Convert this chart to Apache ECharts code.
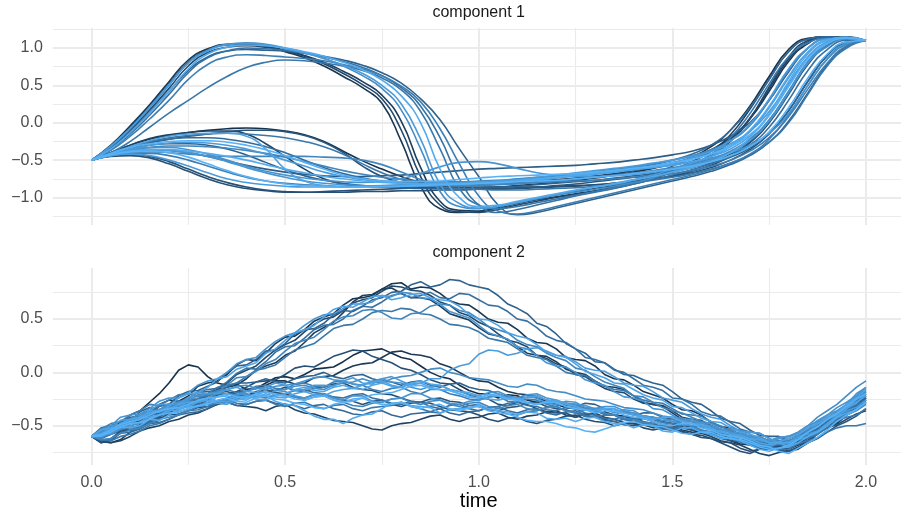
<!DOCTYPE html>
<html><head><meta charset="utf-8">
<script src="https://cdn.jsdelivr.net/npm/echarts@6/dist/echarts.min.js"></script>
<style>html,body{margin:0;padding:0;background:#fff}#chart{width:901px;height:519px}</style>
</head><body><div id="chart"></div>
<script>
// ---------- data ----------
const time1 = [0,0.05,0.1,0.15,0.2,0.25,0.3,0.35,0.4,0.45,0.5,0.55,0.6,0.65,0.7,0.75,0.8,0.85,0.9,0.95,1,1.05,1.1,1.15,1.2,1.25,1.3,1.35,1.4,1.45,1.5,1.55,1.6,1.65,1.7,1.75,1.8,1.85,1.9,1.95,2];
const time2 = [0,0.025,0.05,0.075,0.1,0.125,0.15,0.175,0.2,0.225,0.25,0.275,0.3,0.325,0.35,0.375,0.4,0.425,0.45,0.475,0.5,0.525,0.55,0.575,0.6,0.625,0.65,0.675,0.7,0.725,0.75,0.775,0.8,0.825,0.85,0.875,0.9,0.925,0.95,0.975,1,1.025,1.05,1.075,1.1,1.125,1.15,1.175,1.2,1.225,1.25,1.275,1.3,1.325,1.35,1.375,1.4,1.425,1.45,1.475,1.5,1.525,1.55,1.575,1.6,1.625,1.65,1.675,1.7,1.725,1.75,1.775,1.8,1.825,1.85,1.875,1.9,1.925,1.95,1.975,2];
const panelTitles = ['component 1', 'component 2'];
const xTicks = [0, 0.5, 1, 1.5, 2];
const xMinor = [0.25, 0.75, 1.25, 1.75];
const yTicks1 = [-1, -0.5, 0, 0.5, 1];
const yMinor1 = [-1.25, -0.75, -0.25, 0.25, 0.75, 1.25];
const yTicks2 = [-0.5, 0, 0.5];
const yMinor2 = [-0.75, -0.25, 0.25, 0.75];
const xTitle = 'time';

// component 1 curves (values at time1)
const c1_01 = [-0.50,-0.30,-0.04,0.24,0.55,0.84,0.99,1.05,1.06,1.03,0.95,0.87,0.76,0.62,0.47,0.26,-0.25,-0.85,-1.15,-1.20,-1.19,-1.14,-1.08,-1.03,-0.99,-0.95,-0.91,-0.86,-0.80,-0.70,-0.58,-0.47,-0.36,-0.20,0.05,0.42,0.82,1.06,1.14,1.13,1.10];
const c1_02 = [-0.50,-0.32,-0.08,0.20,0.50,0.80,0.97,1.05,1.07,1.05,1.00,0.94,0.86,0.76,0.63,0.46,0.17,-0.35,-0.92,-1.12,-1.15,-1.12,-1.07,-1.02,-0.97,-0.93,-0.89,-0.85,-0.80,-0.74,-0.65,-0.58,-0.50,-0.40,-0.22,0.03,0.42,0.80,1.02,1.12,1.10];
const c1_03 = [-0.50,-0.33,-0.10,0.17,0.46,0.76,0.94,1.01,1.03,1.01,0.96,0.89,0.79,0.66,0.51,0.32,-0.10,-0.72,-1.10,-1.19,-1.20,-1.16,-1.10,-1.05,-1.00,-0.96,-0.92,-0.87,-0.82,-0.75,-0.66,-0.56,-0.44,-0.25,0.05,0.48,0.88,1.10,1.15,1.13,1.10];
const c1_04 = [-0.50,-0.35,-0.13,0.13,0.42,0.72,0.92,1.01,1.04,1.03,1.00,0.95,0.89,0.81,0.71,0.57,0.36,0.00,-0.62,-1.00,-1.12,-1.10,-1.05,-1.00,-0.95,-0.90,-0.86,-0.82,-0.77,-0.72,-0.66,-0.60,-0.52,-0.40,-0.20,0.12,0.55,0.92,1.10,1.14,1.10];
const c1_05 = [-0.50,-0.36,-0.15,0.10,0.38,0.67,0.87,0.96,1.00,0.99,0.97,0.93,0.88,0.82,0.74,0.63,0.47,0.22,-0.20,-0.75,-1.10,-1.20,-1.16,-1.10,-1.04,-0.98,-0.93,-0.88,-0.82,-0.76,-0.70,-0.63,-0.55,-0.45,-0.30,-0.06,0.30,0.70,0.98,1.10,1.10];
const c1_06 = [-0.50,-0.37,-0.18,0.05,0.30,0.58,0.78,0.88,0.91,0.90,0.88,0.86,0.83,0.78,0.72,0.63,0.49,0.28,-0.08,-0.55,-0.98,-1.18,-1.22,-1.18,-1.12,-1.06,-1.00,-0.94,-0.88,-0.82,-0.76,-0.70,-0.63,-0.54,-0.42,-0.22,0.10,0.50,0.85,1.05,1.10];
const c1_07 = [-0.50,-0.40,-0.25,-0.06,0.13,0.30,0.47,0.62,0.74,0.81,0.84,0.83,0.80,0.76,0.70,0.60,0.44,0.15,-0.35,-0.88,-1.10,-1.15,-1.12,-1.07,-1.02,-0.97,-0.92,-0.87,-0.81,-0.74,-0.66,-0.56,-0.42,-0.20,0.12,0.52,0.88,1.07,1.13,1.12,1.10];
const c1_08 = [-0.50,-0.31,-0.06,0.22,0.52,0.81,0.97,1.04,1.05,1.03,0.97,0.90,0.81,0.69,0.55,0.37,0.02,-0.60,-1.05,-1.17,-1.18,-1.13,-1.07,-1.01,-0.96,-0.92,-0.88,-0.84,-0.79,-0.72,-0.63,-0.52,-0.38,-0.16,0.18,0.58,0.95,1.12,1.15,1.13,1.10];
const c1_09 = [-0.50,-0.31,-0.07,0.21,0.51,0.80,0.96,1.04,1.06,1.04,0.99,0.93,0.86,0.77,0.66,0.50,0.25,-0.22,-0.82,-1.08,-1.14,-1.12,-1.07,-1.01,-0.96,-0.91,-0.86,-0.81,-0.76,-0.70,-0.62,-0.54,-0.45,-0.32,-0.12,0.20,0.60,0.94,1.10,1.13,1.10];
const c1_10 = [-0.50,-0.34,-0.12,0.14,0.42,0.70,0.88,0.96,0.98,0.97,0.96,0.93,0.89,0.84,0.77,0.67,0.53,0.32,0.04,-0.35,-0.72,-1.10,-1.23,-1.20,-1.14,-1.08,-1.02,-0.96,-0.90,-0.84,-0.78,-0.72,-0.65,-0.56,-0.44,-0.26,0.02,0.40,0.78,1.02,1.10];
const c1_11 = [-0.50,-0.40,-0.30,-0.22,-0.17,-0.13,-0.10,-0.08,-0.07,-0.08,-0.11,-0.16,-0.25,-0.38,-0.51,-0.62,-0.72,-0.80,-0.85,-0.87,-0.87,-0.86,-0.84,-0.82,-0.80,-0.77,-0.74,-0.70,-0.66,-0.61,-0.55,-0.46,-0.32,-0.10,0.22,0.62,0.98,1.13,1.15,1.13,1.10];
const c1_12 = [-0.50,-0.40,-0.30,-0.21,-0.16,-0.13,-0.11,-0.11,-0.15,-0.28,-0.45,-0.62,-0.75,-0.82,-0.85,-0.86,-0.86,-0.85,-0.84,-0.83,-0.82,-0.81,-0.80,-0.78,-0.76,-0.74,-0.71,-0.68,-0.64,-0.60,-0.55,-0.48,-0.38,-0.22,0.06,0.45,0.85,1.08,1.15,1.13,1.10];
const c1_13 = [-0.50,-0.41,-0.32,-0.24,-0.18,-0.15,-0.14,-0.14,-0.18,-0.35,-0.62,-0.78,-0.84,-0.86,-0.86,-0.85,-0.84,-0.83,-0.82,-0.81,-0.80,-0.79,-0.77,-0.75,-0.73,-0.71,-0.69,-0.66,-0.63,-0.60,-0.57,-0.52,-0.45,-0.35,-0.18,0.10,0.50,0.88,1.08,1.14,1.10];
const c1_14 = [-0.50,-0.42,-0.34,-0.27,-0.22,-0.18,-0.15,-0.12,-0.10,-0.10,-0.12,-0.17,-0.26,-0.40,-0.58,-0.72,-0.80,-0.85,-0.87,-0.88,-0.88,-0.88,-0.87,-0.86,-0.84,-0.82,-0.79,-0.76,-0.73,-0.70,-0.66,-0.60,-0.52,-0.42,-0.26,0.02,0.40,0.80,1.05,1.13,1.10];
const c1_15 = [-0.50,-0.44,-0.40,-0.39,-0.40,-0.42,-0.44,-0.45,-0.45,-0.45,-0.45,-0.45,-0.46,-0.47,-0.50,-0.56,-0.66,-0.76,-0.82,-0.84,-0.84,-0.83,-0.82,-0.80,-0.78,-0.76,-0.73,-0.70,-0.67,-0.64,-0.60,-0.55,-0.48,-0.38,-0.22,0.04,0.42,0.82,1.06,1.14,1.10];
const c1_16 = [-0.50,-0.40,-0.32,-0.26,-0.22,-0.20,-0.20,-0.22,-0.26,-0.32,-0.40,-0.50,-0.60,-0.68,-0.74,-0.78,-0.80,-0.81,-0.81,-0.80,-0.79,-0.78,-0.76,-0.74,-0.72,-0.70,-0.67,-0.64,-0.60,-0.56,-0.50,-0.42,-0.30,-0.10,0.20,0.58,0.95,1.12,1.15,1.13,1.10];
const c1_17 = [-0.50,-0.42,-0.36,-0.33,-0.33,-0.36,-0.42,-0.50,-0.58,-0.65,-0.70,-0.74,-0.77,-0.79,-0.80,-0.79,-0.75,-0.68,-0.59,-0.53,-0.52,-0.55,-0.61,-0.67,-0.70,-0.72,-0.72,-0.71,-0.69,-0.66,-0.62,-0.57,-0.50,-0.40,-0.24,0.02,0.40,0.80,1.05,1.13,1.10];
const c1_18 = [-0.50,-0.45,-0.44,-0.47,-0.55,-0.65,-0.75,-0.83,-0.88,-0.91,-0.93,-0.93,-0.92,-0.91,-0.90,-0.89,-0.88,-0.87,-0.86,-0.86,-0.86,-0.86,-0.86,-0.86,-0.85,-0.84,-0.83,-0.81,-0.79,-0.76,-0.72,-0.67,-0.60,-0.50,-0.36,-0.15,0.16,0.55,0.90,1.08,1.10];
const c1_19 = [-0.50,-0.44,-0.42,-0.44,-0.50,-0.58,-0.67,-0.75,-0.80,-0.83,-0.85,-0.86,-0.86,-0.86,-0.85,-0.84,-0.83,-0.82,-0.81,-0.80,-0.79,-0.78,-0.77,-0.75,-0.73,-0.71,-0.68,-0.65,-0.62,-0.58,-0.53,-0.47,-0.38,-0.24,-0.02,0.32,0.72,1.00,1.12,1.13,1.10];
const c1_20 = [-0.50,-0.43,-0.39,-0.38,-0.40,-0.46,-0.55,-0.64,-0.72,-0.78,-0.82,-0.84,-0.85,-0.86,-0.86,-0.86,-0.85,-0.84,-0.83,-0.82,-0.81,-0.80,-0.79,-0.78,-0.77,-0.75,-0.73,-0.71,-0.68,-0.65,-0.62,-0.58,-0.52,-0.44,-0.32,-0.12,0.20,0.60,0.92,1.08,1.10];
const c1_21 = [-0.50,-0.42,-0.35,-0.30,-0.28,-0.28,-0.30,-0.35,-0.43,-0.53,-0.63,-0.71,-0.77,-0.81,-0.84,-0.86,-0.87,-0.88,-0.88,-0.88,-0.87,-0.86,-0.85,-0.83,-0.81,-0.79,-0.77,-0.74,-0.71,-0.68,-0.64,-0.60,-0.54,-0.46,-0.34,-0.14,0.16,0.56,0.90,1.07,1.10];
const c1_22 = [-0.50,-0.43,-0.37,-0.33,-0.31,-0.31,-0.32,-0.34,-0.37,-0.41,-0.46,-0.52,-0.58,-0.64,-0.69,-0.73,-0.76,-0.78,-0.79,-0.79,-0.78,-0.77,-0.75,-0.73,-0.71,-0.68,-0.65,-0.62,-0.59,-0.55,-0.50,-0.44,-0.36,-0.24,-0.04,0.30,0.70,1.00,1.12,1.13,1.10];
const c1_23 = [-0.50,-0.41,-0.32,-0.25,-0.20,-0.17,-0.15,-0.14,-0.15,-0.17,-0.20,-0.25,-0.32,-0.42,-0.55,-0.67,-0.76,-0.82,-0.86,-0.88,-0.89,-0.90,-0.90,-0.89,-0.88,-0.87,-0.85,-0.83,-0.80,-0.77,-0.73,-0.68,-0.62,-0.54,-0.43,-0.26,0.00,0.38,0.76,1.00,1.10];
const c1_24 = [-0.50,-0.42,-0.38,-0.36,-0.36,-0.38,-0.41,-0.45,-0.50,-0.56,-0.62,-0.67,-0.72,-0.75,-0.78,-0.80,-0.81,-0.82,-0.82,-0.82,-0.81,-0.80,-0.78,-0.76,-0.73,-0.70,-0.67,-0.64,-0.61,-0.58,-0.54,-0.49,-0.41,-0.30,-0.10,0.22,0.62,0.95,1.11,1.14,1.10];
const c1_25 = [-0.50,-0.44,-0.42,-0.45,-0.52,-0.62,-0.72,-0.80,-0.86,-0.90,-0.92,-0.93,-0.93,-0.93,-0.92,-0.92,-0.91,-0.91,-0.90,-0.90,-0.89,-0.89,-0.88,-0.87,-0.86,-0.85,-0.83,-0.81,-0.78,-0.75,-0.71,-0.65,-0.57,-0.45,-0.27,0.00,0.38,0.78,1.03,1.12,1.10];
const c1_26 = [-0.50,-0.43,-0.38,-0.36,-0.37,-0.40,-0.45,-0.52,-0.60,-0.67,-0.73,-0.78,-0.81,-0.83,-0.84,-0.85,-0.85,-0.85,-0.84,-0.83,-0.82,-0.81,-0.79,-0.77,-0.74,-0.71,-0.68,-0.65,-0.62,-0.59,-0.56,-0.52,-0.47,-0.40,-0.30,-0.14,0.12,0.50,0.86,1.06,1.10];
const c1_27 = [-0.50,-0.42,-0.35,-0.30,-0.27,-0.26,-0.27,-0.30,-0.35,-0.42,-0.50,-0.58,-0.66,-0.72,-0.76,-0.79,-0.81,-0.82,-0.82,-0.81,-0.80,-0.78,-0.76,-0.73,-0.70,-0.67,-0.64,-0.61,-0.58,-0.54,-0.50,-0.45,-0.38,-0.28,-0.12,0.15,0.52,0.88,1.08,1.14,1.10];
const c1_28 = [-0.50,-0.43,-0.38,-0.36,-0.37,-0.40,-0.45,-0.51,-0.57,-0.62,-0.66,-0.69,-0.71,-0.72,-0.72,-0.71,-0.70,-0.68,-0.66,-0.64,-0.62,-0.61,-0.60,-0.59,-0.58,-0.57,-0.55,-0.53,-0.50,-0.47,-0.43,-0.38,-0.30,-0.18,0.00,0.30,0.68,1.00,1.13,1.15,1.10];
const c1_29 = [-0.50,-0.44,-0.41,-0.41,-0.44,-0.50,-0.58,-0.66,-0.73,-0.78,-0.81,-0.83,-0.84,-0.85,-0.85,-0.85,-0.84,-0.84,-0.83,-0.83,-0.82,-0.82,-0.81,-0.80,-0.79,-0.78,-0.77,-0.75,-0.73,-0.71,-0.68,-0.64,-0.58,-0.50,-0.38,-0.20,0.08,0.45,0.80,1.03,1.10];
const c1_30 = [-0.50,-0.41,-0.33,-0.28,-0.25,-0.24,-0.24,-0.26,-0.30,-0.36,-0.44,-0.53,-0.62,-0.70,-0.75,-0.78,-0.79,-0.79,-0.78,-0.76,-0.74,-0.72,-0.71,-0.70,-0.69,-0.68,-0.66,-0.64,-0.61,-0.58,-0.54,-0.49,-0.42,-0.32,-0.16,0.10,0.48,0.85,1.06,1.13,1.10];
const comp1Shade = [0.1,0.75,0.25,0.95,0.55,0.65,0.6,0.15,0.85,0.45, 0.05,0.2,0.9,0.35,0.7,0.5,0.8,0.3,0.85,1.0, 0.45,0.7,0.6,0.95,0.3,0.8,0.85,0.4,0.65,1.0];

// component 2 curves (values at time2)
const c2_01 = [-0.60,-0.61,-0.55,-0.47,-0.44,-0.43,-0.38,-0.30,-0.26,-0.27,-0.22,-0.13,-0.10,-0.08,-0.02,0.07,0.12,0.11,0.18,0.27,0.33,0.34,0.40,0.48,0.52,0.55,0.63,0.69,0.70,0.72,0.78,0.83,0.84,0.78,0.80,0.79,0.74,0.67,0.64,0.63,0.57,0.50,0.47,0.46,0.40,0.32,0.28,0.27,0.22,0.14,0.12,0.11,0.06,-0.02,-0.06,-0.07,-0.12,-0.18,-0.21,-0.24,-0.30,-0.35,-0.36,-0.40,-0.47,-0.51,-0.52,-0.55,-0.61,-0.66,-0.66,-0.65,-0.70,-0.66,-0.58,-0.50,-0.46,-0.43,-0.36,-0.27,-0.22];
const c2_02 = [-0.60,-0.52,-0.50,-0.51,-0.46,-0.37,-0.33,-0.35,-0.30,-0.22,-0.18,-0.17,-0.13,-0.09,0.00,0.06,0.07,0.12,0.20,0.21,0.27,0.36,0.40,0.41,0.46,0.54,0.58,0.57,0.62,0.68,0.70,0.75,0.76,0.82,0.85,0.80,0.82,0.87,0.86,0.82,0.80,0.78,0.72,0.64,0.60,0.55,0.46,0.43,0.36,0.27,0.22,0.18,0.10,0.09,0.03,-0.02,-0.03,-0.07,-0.10,-0.12,-0.18,-0.25,-0.28,-0.30,-0.36,-0.43,-0.46,-0.48,-0.54,-0.59,-0.60,-0.60,-0.64,-0.61,-0.55,-0.50,-0.42,-0.39,-0.32,-0.24,-0.18];
const c2_03 = [-0.60,-0.55,-0.56,-0.52,-0.43,-0.45,-0.40,-0.32,-0.30,-0.31,-0.25,-0.18,-0.16,-0.15,-0.09,-0.01,0.04,0.03,0.10,0.19,0.24,0.25,0.32,0.40,0.44,0.45,0.50,0.58,0.62,0.61,0.66,0.72,0.74,0.70,0.72,0.75,0.70,0.69,0.74,0.73,0.68,0.63,0.62,0.57,0.50,0.48,0.42,0.34,0.30,0.28,0.22,0.14,0.12,0.09,0.02,0.00,-0.06,-0.12,-0.14,-0.17,-0.24,-0.25,-0.30,-0.37,-0.40,-0.41,-0.47,-0.53,-0.56,-0.57,-0.62,-0.66,-0.66,-0.60,-0.58,-0.54,-0.46,-0.39,-0.36,-0.32,-0.24];
const c2_04 = [-0.60,-0.66,-0.62,-0.55,-0.52,-0.50,-0.45,-0.42,-0.36,-0.30,-0.28,-0.26,-0.20,-0.16,-0.10,-0.02,0.02,0.06,0.14,0.21,0.26,0.30,0.38,0.45,0.50,0.52,0.58,0.65,0.68,0.70,0.76,0.81,0.80,0.77,0.76,0.72,0.66,0.63,0.56,0.53,0.47,0.43,0.36,0.30,0.28,0.24,0.16,0.13,0.08,0.05,-0.02,-0.04,-0.10,-0.15,-0.18,-0.19,-0.25,-0.29,-0.30,-0.31,-0.36,-0.42,-0.44,-0.45,-0.50,-0.54,-0.55,-0.57,-0.62,-0.63,-0.68,-0.72,-0.72,-0.66,-0.64,-0.58,-0.50,-0.46,-0.38,-0.33,-0.26];
const c2_05 = [-0.60,-0.59,-0.54,-0.48,-0.47,-0.44,-0.36,-0.37,-0.32,-0.24,-0.20,-0.19,-0.14,-0.06,-0.04,0.03,0.06,0.09,0.18,0.22,0.30,0.37,0.40,0.44,0.52,0.59,0.62,0.61,0.66,0.71,0.72,0.68,0.70,0.73,0.74,0.70,0.68,0.67,0.62,0.54,0.50,0.49,0.44,0.37,0.34,0.32,0.26,0.19,0.16,0.14,0.08,0.01,-0.02,-0.05,-0.10,-0.11,-0.16,-0.21,-0.24,-0.26,-0.32,-0.33,-0.38,-0.43,-0.46,-0.47,-0.52,-0.56,-0.58,-0.61,-0.66,-0.66,-0.70,-0.63,-0.60,-0.55,-0.48,-0.42,-0.34,-0.29,-0.20];
const c2_06 = [-0.60,-0.62,-0.57,-0.51,-0.50,-0.48,-0.42,-0.35,-0.34,-0.33,-0.27,-0.21,-0.20,-0.18,-0.12,-0.05,-0.04,0.01,0.08,0.12,0.20,0.27,0.30,0.33,0.40,0.48,0.52,0.53,0.58,0.59,0.56,0.51,0.50,0.55,0.56,0.62,0.64,0.63,0.58,0.56,0.50,0.43,0.40,0.37,0.30,0.26,0.24,0.18,0.14,0.11,0.04,0.02,-0.04,-0.09,-0.12,-0.15,-0.22,-0.23,-0.28,-0.33,-0.36,-0.38,-0.42,-0.46,-0.48,-0.50,-0.56,-0.59,-0.60,-0.60,-0.64,-0.67,-0.68,-0.63,-0.60,-0.57,-0.50,-0.43,-0.40,-0.36,-0.30];
const c2_07 = [-0.60,-0.57,-0.50,-0.42,-0.40,-0.39,-0.34,-0.27,-0.24,-0.24,-0.19,-0.12,-0.08,-0.06,0.00,0.08,0.12,0.14,0.22,0.29,0.34,0.37,0.44,0.50,0.54,0.55,0.60,0.64,0.64,0.66,0.72,0.71,0.75,0.74,0.70,0.69,0.64,0.57,0.54,0.51,0.44,0.37,0.34,0.31,0.24,0.22,0.16,0.09,0.06,0.05,0.00,-0.07,-0.10,-0.12,-0.18,-0.23,-0.24,-0.27,-0.34,-0.35,-0.40,-0.45,-0.46,-0.47,-0.52,-0.58,-0.60,-0.60,-0.64,-0.69,-0.70,-0.66,-0.66,-0.62,-0.56,-0.48,-0.44,-0.39,-0.30,-0.20,-0.14];
const c2_08 = [-0.60,-0.64,-0.66,-0.63,-0.56,-0.49,-0.47,-0.45,-0.38,-0.33,-0.32,-0.29,-0.22,-0.16,-0.14,-0.12,-0.06,0.02,0.06,0.09,0.16,0.20,0.28,0.37,0.42,0.47,0.56,0.66,0.72,0.73,0.78,0.79,0.74,0.70,0.70,0.68,0.62,0.55,0.52,0.49,0.42,0.36,0.34,0.31,0.24,0.18,0.16,0.15,0.10,0.03,0.00,-0.02,-0.08,-0.13,-0.14,-0.16,-0.22,-0.28,-0.30,-0.32,-0.38,-0.44,-0.46,-0.46,-0.50,-0.56,-0.58,-0.60,-0.66,-0.70,-0.70,-0.69,-0.74,-0.72,-0.66,-0.57,-0.52,-0.48,-0.40,-0.32,-0.28];
const c2_09 = [-0.60,-0.55,-0.54,-0.53,-0.48,-0.42,-0.40,-0.39,-0.33,-0.27,-0.26,-0.25,-0.20,-0.14,-0.12,-0.10,-0.04,0.02,0.04,0.07,0.14,0.21,0.24,0.27,0.34,0.41,0.44,0.45,0.50,0.56,0.58,0.57,0.60,0.59,0.55,0.54,0.50,0.45,0.44,0.42,0.38,0.32,0.30,0.28,0.22,0.16,0.14,0.12,0.06,0.00,-0.02,-0.03,-0.08,-0.13,-0.16,-0.17,-0.22,-0.26,-0.28,-0.29,-0.34,-0.39,-0.40,-0.41,-0.46,-0.51,-0.54,-0.54,-0.58,-0.63,-0.64,-0.64,-0.68,-0.63,-0.62,-0.58,-0.52,-0.45,-0.42,-0.40,-0.34];
const c2_10 = [-0.60,-0.58,-0.52,-0.45,-0.44,-0.42,-0.36,-0.30,-0.30,-0.29,-0.24,-0.19,-0.20,-0.20,-0.16,-0.14,-0.18,-0.19,-0.14,-0.10,-0.12,-0.17,-0.16,-0.12,-0.12,-0.13,-0.08,-0.05,-0.10,-0.11,-0.06,-0.04,-0.08,-0.12,-0.10,-0.06,-0.06,0.02,0.06,0.08,0.17,0.21,0.20,0.16,0.18,0.22,0.23,0.20,0.16,0.15,0.10,0.04,0.02,0.01,-0.04,-0.10,-0.12,-0.13,-0.18,-0.24,-0.26,-0.28,-0.34,-0.39,-0.42,-0.44,-0.50,-0.55,-0.56,-0.57,-0.62,-0.66,-0.66,-0.60,-0.58,-0.55,-0.48,-0.40,-0.36,-0.33,-0.26];
const c2_11 = [-0.60,-0.57,-0.50,-0.47,-0.40,-0.36,-0.28,-0.20,-0.10,0.02,0.07,0.05,-0.04,-0.10,-0.12,-0.11,-0.16,-0.15,-0.10,-0.05,-0.04,-0.06,-0.02,0.03,0.04,0.05,0.10,0.16,0.20,0.21,0.22,0.18,0.14,0.12,0.06,0.00,-0.04,-0.06,-0.12,-0.17,-0.20,-0.20,-0.24,-0.21,-0.22,-0.26,-0.28,-0.27,-0.30,-0.33,-0.34,-0.33,-0.36,-0.39,-0.40,-0.41,-0.44,-0.43,-0.46,-0.49,-0.50,-0.51,-0.54,-0.57,-0.56,-0.58,-0.62,-0.63,-0.66,-0.69,-0.70,-0.69,-0.72,-0.68,-0.64,-0.55,-0.48,-0.44,-0.36,-0.30,-0.24];
const c2_12 = [-0.60,-0.66,-0.64,-0.57,-0.52,-0.51,-0.46,-0.40,-0.38,-0.35,-0.30,-0.30,-0.26,-0.21,-0.20,-0.18,-0.14,-0.09,-0.08,-0.07,-0.02,0.04,0.06,0.05,0.10,0.15,0.18,0.21,0.20,0.15,0.12,0.09,0.04,0.02,-0.02,-0.07,-0.10,-0.11,-0.16,-0.21,-0.24,-0.25,-0.30,-0.31,-0.28,-0.30,-0.34,-0.37,-0.38,-0.38,-0.42,-0.39,-0.40,-0.44,-0.46,-0.49,-0.50,-0.47,-0.48,-0.52,-0.54,-0.55,-0.58,-0.61,-0.62,-0.66,-0.70,-0.74,-0.76,-0.72,-0.70,-0.70,-0.66,-0.63,-0.58,-0.53,-0.46,-0.40,-0.32,-0.27,-0.20];
const c2_13 = [-0.60,-0.60,-0.56,-0.51,-0.52,-0.50,-0.44,-0.45,-0.40,-0.34,-0.32,-0.32,-0.28,-0.23,-0.22,-0.25,-0.26,-0.21,-0.22,-0.27,-0.30,-0.31,-0.36,-0.41,-0.44,-0.44,-0.48,-0.43,-0.40,-0.39,-0.34,-0.29,-0.28,-0.31,-0.32,-0.33,-0.38,-0.35,-0.34,-0.34,-0.30,-0.34,-0.36,-0.37,-0.40,-0.37,-0.38,-0.43,-0.44,-0.43,-0.46,-0.43,-0.42,-0.46,-0.48,-0.48,-0.52,-0.49,-0.50,-0.55,-0.56,-0.52,-0.52,-0.56,-0.58,-0.62,-0.62,-0.64,-0.68,-0.72,-0.74,-0.71,-0.70,-0.66,-0.60,-0.56,-0.50,-0.42,-0.38,-0.35,-0.28];
const c2_14 = [-0.60,-0.53,-0.48,-0.46,-0.40,-0.36,-0.30,-0.31,-0.26,-0.21,-0.20,-0.23,-0.22,-0.17,-0.16,-0.19,-0.18,-0.13,-0.12,-0.15,-0.16,-0.11,-0.10,-0.13,-0.14,-0.09,-0.08,-0.11,-0.12,-0.16,-0.18,-0.15,-0.14,-0.18,-0.20,-0.16,-0.16,-0.20,-0.22,-0.25,-0.26,-0.23,-0.22,-0.27,-0.28,-0.25,-0.26,-0.30,-0.32,-0.29,-0.30,-0.34,-0.36,-0.39,-0.40,-0.37,-0.38,-0.42,-0.44,-0.47,-0.48,-0.45,-0.46,-0.50,-0.52,-0.53,-0.56,-0.59,-0.60,-0.61,-0.64,-0.64,-0.62,-0.59,-0.54,-0.47,-0.42,-0.37,-0.30,-0.22,-0.16];
const c2_15 = [-0.60,-0.56,-0.58,-0.53,-0.50,-0.47,-0.42,-0.40,-0.36,-0.31,-0.30,-0.28,-0.24,-0.27,-0.26,-0.21,-0.20,-0.24,-0.22,-0.17,-0.18,-0.22,-0.24,-0.21,-0.20,-0.24,-0.26,-0.22,-0.22,-0.27,-0.28,-0.25,-0.24,-0.20,-0.20,-0.24,-0.26,-0.29,-0.30,-0.27,-0.26,-0.23,-0.22,-0.25,-0.26,-0.23,-0.24,-0.29,-0.30,-0.27,-0.28,-0.33,-0.34,-0.34,-0.38,-0.35,-0.36,-0.41,-0.42,-0.43,-0.46,-0.49,-0.50,-0.47,-0.48,-0.53,-0.56,-0.60,-0.62,-0.63,-0.66,-0.62,-0.60,-0.57,-0.52,-0.45,-0.40,-0.36,-0.30,-0.23,-0.18];
const c2_16 = [-0.60,-0.64,-0.62,-0.57,-0.56,-0.53,-0.48,-0.47,-0.44,-0.40,-0.38,-0.37,-0.34,-0.29,-0.28,-0.31,-0.30,-0.27,-0.26,-0.29,-0.30,-0.31,-0.34,-0.31,-0.30,-0.34,-0.36,-0.39,-0.40,-0.37,-0.36,-0.40,-0.42,-0.39,-0.38,-0.37,-0.34,-0.38,-0.40,-0.37,-0.36,-0.33,-0.32,-0.36,-0.38,-0.35,-0.34,-0.38,-0.40,-0.37,-0.36,-0.40,-0.42,-0.45,-0.46,-0.44,-0.44,-0.48,-0.50,-0.53,-0.54,-0.52,-0.52,-0.56,-0.58,-0.61,-0.62,-0.65,-0.66,-0.69,-0.70,-0.68,-0.68,-0.63,-0.58,-0.52,-0.48,-0.44,-0.38,-0.31,-0.26];
const c2_17 = [-0.60,-0.58,-0.54,-0.49,-0.46,-0.44,-0.40,-0.36,-0.34,-0.33,-0.30,-0.26,-0.24,-0.23,-0.20,-0.23,-0.24,-0.20,-0.18,-0.21,-0.22,-0.25,-0.26,-0.23,-0.22,-0.26,-0.28,-0.25,-0.24,-0.28,-0.30,-0.30,-0.28,-0.32,-0.34,-0.31,-0.30,-0.34,-0.36,-0.33,-0.32,-0.36,-0.38,-0.39,-0.42,-0.45,-0.46,-0.46,-0.48,-0.51,-0.52,-0.55,-0.56,-0.53,-0.50,-0.47,-0.46,-0.49,-0.50,-0.51,-0.54,-0.57,-0.58,-0.56,-0.56,-0.60,-0.62,-0.63,-0.66,-0.70,-0.72,-0.71,-0.68,-0.63,-0.56,-0.51,-0.44,-0.39,-0.32,-0.25,-0.20];
const c2_18 = [-0.60,-0.65,-0.66,-0.64,-0.60,-0.55,-0.52,-0.50,-0.46,-0.44,-0.40,-0.38,-0.34,-0.30,-0.28,-0.31,-0.32,-0.33,-0.36,-0.32,-0.30,-0.35,-0.38,-0.39,-0.42,-0.45,-0.46,-0.47,-0.50,-0.53,-0.54,-0.50,-0.48,-0.47,-0.44,-0.41,-0.40,-0.44,-0.46,-0.43,-0.42,-0.39,-0.38,-0.42,-0.44,-0.41,-0.40,-0.37,-0.36,-0.40,-0.42,-0.39,-0.38,-0.42,-0.44,-0.47,-0.48,-0.49,-0.52,-0.50,-0.50,-0.54,-0.56,-0.57,-0.60,-0.64,-0.66,-0.68,-0.72,-0.76,-0.78,-0.75,-0.74,-0.70,-0.64,-0.57,-0.52,-0.47,-0.40,-0.35,-0.28];
const c2_19 = [-0.60,-0.53,-0.50,-0.49,-0.44,-0.39,-0.36,-0.35,-0.32,-0.28,-0.28,-0.27,-0.24,-0.20,-0.20,-0.21,-0.18,-0.15,-0.14,-0.17,-0.16,-0.13,-0.12,-0.15,-0.16,-0.12,-0.10,-0.09,-0.06,-0.09,-0.10,-0.06,-0.04,-0.03,0.00,0.03,0.04,0.00,-0.02,-0.05,-0.06,-0.07,-0.10,-0.13,-0.14,-0.11,-0.12,-0.16,-0.18,-0.19,-0.22,-0.25,-0.26,-0.27,-0.30,-0.33,-0.34,-0.35,-0.38,-0.41,-0.42,-0.43,-0.46,-0.50,-0.52,-0.53,-0.56,-0.60,-0.62,-0.62,-0.64,-0.61,-0.60,-0.56,-0.50,-0.42,-0.36,-0.30,-0.22,-0.14,-0.08];
const c2_20 = [-0.60,-0.59,-0.56,-0.51,-0.48,-0.45,-0.40,-0.38,-0.34,-0.29,-0.26,-0.25,-0.22,-0.19,-0.18,-0.21,-0.22,-0.18,-0.16,-0.19,-0.20,-0.23,-0.24,-0.21,-0.20,-0.24,-0.26,-0.27,-0.30,-0.27,-0.26,-0.30,-0.32,-0.29,-0.28,-0.25,-0.24,-0.27,-0.28,-0.31,-0.32,-0.35,-0.36,-0.33,-0.32,-0.29,-0.28,-0.32,-0.34,-0.35,-0.38,-0.41,-0.42,-0.40,-0.40,-0.44,-0.46,-0.43,-0.44,-0.47,-0.48,-0.52,-0.54,-0.55,-0.58,-0.62,-0.64,-0.65,-0.68,-0.70,-0.70,-0.73,-0.74,-0.71,-0.66,-0.62,-0.56,-0.50,-0.46,-0.41,-0.34];
const c2_21 = [-0.60,-0.54,-0.52,-0.52,-0.48,-0.43,-0.42,-0.40,-0.36,-0.35,-0.32,-0.28,-0.26,-0.29,-0.30,-0.26,-0.24,-0.23,-0.20,-0.23,-0.24,-0.20,-0.18,-0.21,-0.22,-0.18,-0.16,-0.15,-0.12,-0.09,-0.08,-0.12,-0.14,-0.11,-0.10,-0.14,-0.16,-0.17,-0.20,-0.23,-0.24,-0.21,-0.20,-0.24,-0.26,-0.23,-0.22,-0.26,-0.28,-0.29,-0.32,-0.35,-0.36,-0.34,-0.34,-0.38,-0.40,-0.41,-0.44,-0.42,-0.42,-0.46,-0.48,-0.50,-0.54,-0.55,-0.58,-0.61,-0.62,-0.63,-0.66,-0.65,-0.62,-0.58,-0.52,-0.48,-0.42,-0.38,-0.32,-0.28,-0.22];
const c2_22 = [-0.60,-0.61,-0.58,-0.54,-0.52,-0.50,-0.46,-0.41,-0.38,-0.37,-0.34,-0.30,-0.28,-0.27,-0.24,-0.21,-0.20,-0.23,-0.24,-0.21,-0.20,-0.17,-0.16,-0.19,-0.20,-0.23,-0.24,-0.21,-0.20,-0.24,-0.26,-0.29,-0.30,-0.27,-0.28,-0.32,-0.34,-0.31,-0.30,-0.34,-0.36,-0.33,-0.32,-0.29,-0.28,-0.31,-0.32,-0.35,-0.36,-0.33,-0.34,-0.38,-0.40,-0.43,-0.44,-0.41,-0.42,-0.46,-0.48,-0.51,-0.52,-0.50,-0.50,-0.54,-0.56,-0.57,-0.60,-0.63,-0.64,-0.65,-0.68,-0.65,-0.64,-0.61,-0.56,-0.50,-0.46,-0.42,-0.36,-0.30,-0.26];
const c2_23 = [-0.60,-0.58,-0.54,-0.49,-0.46,-0.45,-0.40,-0.36,-0.34,-0.32,-0.28,-0.27,-0.24,-0.21,-0.20,-0.19,-0.16,-0.15,-0.12,-0.08,-0.08,-0.11,-0.10,-0.05,-0.04,-0.03,0.02,0.06,0.08,0.09,0.14,0.19,0.20,0.17,0.16,0.14,0.08,0.05,0.00,-0.05,-0.08,-0.09,-0.14,-0.18,-0.20,-0.21,-0.24,-0.27,-0.28,-0.29,-0.32,-0.35,-0.36,-0.37,-0.40,-0.43,-0.44,-0.41,-0.42,-0.46,-0.48,-0.49,-0.52,-0.56,-0.58,-0.60,-0.64,-0.67,-0.68,-0.71,-0.72,-0.69,-0.68,-0.64,-0.58,-0.53,-0.46,-0.40,-0.34,-0.30,-0.24];
const c2_24 = [-0.60,-0.63,-0.62,-0.57,-0.54,-0.52,-0.48,-0.44,-0.42,-0.40,-0.36,-0.32,-0.30,-0.29,-0.26,-0.23,-0.22,-0.21,-0.18,-0.21,-0.22,-0.23,-0.26,-0.23,-0.22,-0.26,-0.28,-0.31,-0.32,-0.29,-0.28,-0.25,-0.24,-0.28,-0.30,-0.27,-0.26,-0.30,-0.32,-0.29,-0.28,-0.32,-0.34,-0.31,-0.30,-0.34,-0.36,-0.33,-0.32,-0.36,-0.38,-0.35,-0.34,-0.38,-0.40,-0.43,-0.44,-0.47,-0.48,-0.45,-0.44,-0.48,-0.50,-0.54,-0.56,-0.54,-0.54,-0.58,-0.60,-0.64,-0.66,-0.64,-0.64,-0.60,-0.54,-0.50,-0.44,-0.38,-0.34,-0.26,-0.20];
const c2_25 = [-0.60,-0.55,-0.52,-0.48,-0.42,-0.41,-0.36,-0.31,-0.30,-0.28,-0.24,-0.19,-0.18,-0.17,-0.14,-0.10,-0.10,-0.09,-0.06,-0.09,-0.10,-0.06,-0.04,-0.03,0.00,-0.04,-0.06,-0.03,-0.02,-0.06,-0.08,-0.09,-0.12,-0.09,-0.08,-0.12,-0.14,-0.11,-0.10,-0.14,-0.16,-0.17,-0.20,-0.23,-0.24,-0.21,-0.22,-0.26,-0.28,-0.31,-0.32,-0.29,-0.30,-0.34,-0.36,-0.37,-0.40,-0.38,-0.38,-0.42,-0.44,-0.48,-0.50,-0.51,-0.54,-0.57,-0.58,-0.60,-0.64,-0.67,-0.68,-0.68,-0.70,-0.66,-0.60,-0.55,-0.48,-0.43,-0.36,-0.30,-0.22];
const c2_26 = [-0.60,-0.59,-0.56,-0.51,-0.48,-0.47,-0.44,-0.40,-0.38,-0.37,-0.34,-0.31,-0.30,-0.26,-0.24,-0.27,-0.28,-0.24,-0.22,-0.25,-0.26,-0.29,-0.30,-0.33,-0.34,-0.30,-0.28,-0.27,-0.24,-0.21,-0.20,-0.19,-0.16,-0.13,-0.12,-0.15,-0.16,-0.17,-0.20,-0.23,-0.24,-0.21,-0.22,-0.25,-0.26,-0.29,-0.30,-0.28,-0.28,-0.32,-0.34,-0.35,-0.38,-0.36,-0.36,-0.40,-0.42,-0.43,-0.46,-0.49,-0.50,-0.48,-0.48,-0.52,-0.54,-0.58,-0.60,-0.61,-0.64,-0.68,-0.70,-0.74,-0.76,-0.71,-0.66,-0.61,-0.54,-0.46,-0.40,-0.35,-0.28];
const c2_27 = [-0.60,-0.62,-0.58,-0.55,-0.54,-0.52,-0.48,-0.43,-0.40,-0.39,-0.36,-0.33,-0.32,-0.30,-0.26,-0.25,-0.22,-0.19,-0.18,-0.17,-0.14,-0.17,-0.18,-0.15,-0.14,-0.11,-0.10,-0.14,-0.16,-0.17,-0.20,-0.21,-0.24,-0.27,-0.28,-0.29,-0.32,-0.35,-0.36,-0.37,-0.40,-0.44,-0.46,-0.43,-0.42,-0.46,-0.48,-0.45,-0.44,-0.41,-0.40,-0.44,-0.46,-0.47,-0.50,-0.48,-0.48,-0.52,-0.54,-0.52,-0.52,-0.56,-0.58,-0.59,-0.62,-0.65,-0.66,-0.71,-0.74,-0.72,-0.72,-0.71,-0.68,-0.66,-0.62,-0.56,-0.52,-0.49,-0.44,-0.39,-0.36];
const c2_28 = [-0.60,-0.54,-0.50,-0.50,-0.46,-0.41,-0.38,-0.35,-0.30,-0.29,-0.26,-0.22,-0.20,-0.19,-0.16,-0.13,-0.12,-0.15,-0.16,-0.13,-0.12,-0.11,-0.08,-0.05,-0.04,-0.07,-0.08,-0.11,-0.12,-0.08,-0.06,-0.09,-0.10,-0.14,-0.16,-0.13,-0.12,-0.16,-0.18,-0.21,-0.22,-0.19,-0.18,-0.22,-0.24,-0.21,-0.20,-0.24,-0.26,-0.29,-0.30,-0.31,-0.34,-0.32,-0.32,-0.36,-0.38,-0.41,-0.42,-0.45,-0.46,-0.44,-0.44,-0.48,-0.50,-0.54,-0.56,-0.57,-0.60,-0.63,-0.64,-0.61,-0.60,-0.56,-0.50,-0.46,-0.40,-0.33,-0.28,-0.22,-0.14];
const c2_29 = [-0.60,-0.63,-0.64,-0.60,-0.58,-0.55,-0.50,-0.48,-0.44,-0.39,-0.36,-0.35,-0.32,-0.28,-0.26,-0.29,-0.30,-0.27,-0.26,-0.30,-0.32,-0.29,-0.28,-0.32,-0.34,-0.31,-0.30,-0.34,-0.36,-0.33,-0.32,-0.31,-0.28,-0.32,-0.34,-0.37,-0.38,-0.35,-0.34,-0.31,-0.30,-0.34,-0.36,-0.39,-0.40,-0.37,-0.36,-0.33,-0.32,-0.36,-0.38,-0.41,-0.42,-0.40,-0.40,-0.44,-0.46,-0.47,-0.50,-0.53,-0.54,-0.52,-0.52,-0.56,-0.58,-0.61,-0.62,-0.65,-0.66,-0.67,-0.70,-0.72,-0.72,-0.67,-0.64,-0.61,-0.56,-0.52,-0.50,-0.50,-0.48];
const c2_30 = [-0.60,-0.59,-0.54,-0.48,-0.44,-0.42,-0.38,-0.37,-0.34,-0.30,-0.28,-0.27,-0.24,-0.27,-0.28,-0.24,-0.22,-0.25,-0.26,-0.22,-0.20,-0.16,-0.14,-0.17,-0.18,-0.14,-0.12,-0.15,-0.16,-0.12,-0.10,-0.13,-0.14,-0.10,-0.08,-0.11,-0.12,-0.16,-0.18,-0.19,-0.22,-0.25,-0.26,-0.24,-0.24,-0.28,-0.30,-0.27,-0.26,-0.30,-0.32,-0.35,-0.36,-0.34,-0.34,-0.38,-0.40,-0.43,-0.44,-0.42,-0.42,-0.46,-0.48,-0.49,-0.52,-0.56,-0.58,-0.59,-0.62,-0.66,-0.68,-0.66,-0.66,-0.62,-0.56,-0.51,-0.44,-0.38,-0.30,-0.24,-0.16];
const comp2Shade = [0.1,0.45,0.55,0.25,0.9,0.7,0.8,0.15,0.6,0.85, 0.05,0.3,0.95,0.65,0.8,0.5,1.0,0.2,0.75,0.35, 0.9,0.55,0.12,0.7,0.45,1.0,0.28,0.8,0.6,0.92];

const comp1 = [c1_01,c1_02,c1_03,c1_04,c1_05,c1_06,c1_07,c1_08,c1_09,c1_10,c1_11,c1_12,c1_13,c1_14,c1_15,c1_16,c1_17,c1_18,c1_19,c1_20,c1_21,c1_22,c1_23,c1_24,c1_25,c1_26,c1_27,c1_28,c1_29,c1_30];
const comp2 = [c2_01,c2_02,c2_03,c2_04,c2_05,c2_06,c2_07,c2_08,c2_09,c2_10,c2_11,c2_12,c2_13,c2_14,c2_15,c2_16,c2_17,c2_18,c2_19,c2_20,c2_21,c2_22,c2_23,c2_24,c2_25,c2_26,c2_27,c2_28,c2_29,c2_30];

// ---------- colour scale (ggplot2 default gradient, Lab interpolation) ----------
const LOW = '#132B43', HIGH = '#56B1F7';
function hexToRgb(h){ return [1,3,5].map(i=>parseInt(h.substr(i,2),16)); }
function toLin(c){ c/=255; return c<=0.04045 ? c/12.92 : Math.pow((c+0.055)/1.055,2.4); }
function fromLin(c){ const v = c<=0.0031308 ? 12.92*c : 1.055*Math.pow(c,1/2.4)-0.055; return Math.round(Math.max(0,Math.min(1,v))*255); }
const WX=0.95047, WY=1, WZ=1.08883;
function fLab(t){ return t>0.008856 ? Math.cbrt(t) : 7.787*t+16/116; }
function fInv(t){ return t>0.206893 ? t*t*t : (t-16/116)/7.787; }
function rgbToLab(rgb){
  const [r,g,b] = rgb.map(toLin);
  const x=(0.4124*r+0.3576*g+0.1805*b)/WX, y=(0.2126*r+0.7152*g+0.0722*b)/WY, z=(0.0193*r+0.1192*g+0.9505*b)/WZ;
  const fx=fLab(x), fy=fLab(y), fz=fLab(z);
  return [116*fy-16, 500*(fx-fy), 200*(fy-fz)];
}
function labToRgb(lab){
  const fy=(lab[0]+16)/116, fx=fy+lab[1]/500, fz=fy-lab[2]/200;
  const x=fInv(fx)*WX, y=fInv(fy)*WY, z=fInv(fz)*WZ;
  const r= 3.2406*x-1.5372*y-0.4986*z, g=-0.9689*x+1.8758*y+0.0415*z, b=0.0557*x-0.2040*y+1.0570*z;
  return [fromLin(r),fromLin(g),fromLin(b)];
}
const LAB0 = rgbToLab(hexToRgb(LOW)), LAB1 = rgbToLab(hexToRgb(HIGH));
function shadeColor(t){
  const lab = LAB0.map((v,i)=>v+(LAB1[i]-v)*t);
  return 'rgb(' + labToRgb(lab).join(',') + ')';
}

// ---------- chart ----------
const FONT = '"Liberation Sans", Arial, Helvetica, sans-serif';
const fmt = v => (Math.round(v*10)/10).toFixed(1).replace('-', '\u2212');

const GRID_LEFT = 52.8, GRID_W = 851.9, GRID_H = 197;
const grids = [
  {left: GRID_LEFT, top: 28, width: GRID_W, height: GRID_H, containLabel:false, outerBoundsMode:'none'},
  {left: GRID_LEFT, top: 268, width: GRID_W, height: GRID_H, containLabel:false, outerBoundsMode:'none'}
];
function xAxisFor(gi, showLabels){
  return {
    type:'value', gridIndex: gi, min: -0.1, max: 2.1,
    axisLine:{show:false}, axisTick:{show:false}, splitLine:{show:false},
    axisLabel:{show: showLabels, customValues: xTicks, formatter: fmt, color:'#4D4D4D', fontSize:16, fontFamily: FONT, margin: 10},
    name: showLabels ? xTitle : '', nameLocation:'middle', nameGap: 25,
    nameTextStyle:{color:'#000', fontSize:20, fontFamily: FONT}
  };
}
function yAxisFor(gi, min, max, ticks){
  return {
    type:'value', gridIndex: gi, min, max,
    axisLine:{show:false}, axisTick:{show:false}, splitLine:{show:false},
    axisLabel:{customValues: ticks, formatter: fmt, color:'#4D4D4D', fontSize:16, fontFamily: FONT, margin: 10}
  };
}
function gridLines(gi, xs, ys, width){
  return {
    type:'line', xAxisIndex: gi, yAxisIndex: gi, data: [], silent: true, z: 0, zlevel: 0,
    markLine:{
      z: 0, zlevel: 0, silent: true, symbol:['none','none'], label:{show:false}, animation:false,
      emphasis:{disabled:true},
      lineStyle:{color:'#EBEBEB', width: width, type:'solid', opacity:1},
      data: xs.map(v=>({xAxis: v})).concat(ys.map(v=>({yAxis: v})))
    }
  };
}
const series = [
  gridLines(0, xMinor, yMinor1, 1.1),
  gridLines(0, xTicks, yTicks1, 2),
  gridLines(1, xMinor, yMinor2, 1.1),
  gridLines(1, xTicks, yTicks2, 2)
];
// draw darker curves first so the lighter ones sit on top
function byShade(shades){ return shades.map((s,i)=>i).sort((a,b)=>shades[a]-shades[b]); }
byShade(comp1Shade).forEach(i => {
  series.push({
    type:'line', xAxisIndex:0, yAxisIndex:0, z: 10,
    data: time1.map((t, k) => [t, comp1[i][k]]),
    showSymbol:false, smooth: 0.5, silent:true,
    lineStyle:{color: shadeColor(comp1Shade[i]), width: 1.6}
  });
});
byShade(comp2Shade).forEach(i => {
  series.push({
    type:'line', xAxisIndex:1, yAxisIndex:1, z: 10,
    data: time2.map((t, k) => [t, comp2[i][k]]),
    showSymbol:false, smooth:false, silent:true,
    lineStyle:{color: shadeColor(comp2Shade[i]), width: 1.6}
  });
});

const chart = echarts.init(document.getElementById('chart'), null, {renderer:'canvas'});
chart.setOption({
  animation: false,
  backgroundColor: '#FFFFFF',
  grid: grids,
  xAxis: [xAxisFor(0, false), xAxisFor(1, true)],
  yAxis: [yAxisFor(0, -1.368, 1.268, yTicks1), yAxisFor(1, -0.868, 0.978, yTicks2)],
  graphic: [
    {type:'text', x: 478.7, y: 12.5, silent:true, style:{text: panelTitles[0], fill:'#1A1A1A', font: '16px ' + FONT, textAlign:'center', textVerticalAlign:'middle'}},
    {type:'text', x: 478.7, y: 252.5, silent:true, style:{text: panelTitles[1], fill:'#1A1A1A', font: '16px ' + FONT, textAlign:'center', textVerticalAlign:'middle'}}
  ],
  series
});
</script></body></html>
